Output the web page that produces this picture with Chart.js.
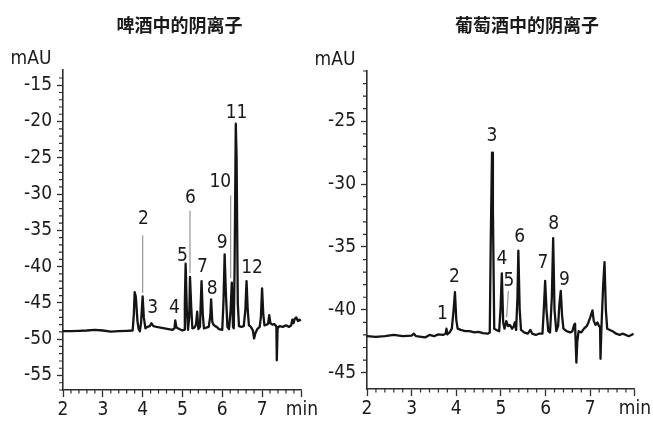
<!DOCTYPE html>
<html>
<head>
<meta charset="utf-8">
<title>啤酒与葡萄酒中的阴离子</title>
<script src="https://cdn.jsdelivr.net/npm/chart.js@4.4.0/dist/chart.umd.min.js"></script>
<style>
  html, body { margin: 0; padding: 0; background: #fff; }
  #wrap { position: relative; width: 653px; height: 421px; overflow: hidden; }
  #wrap canvas { position: absolute; top: 0; }
  #beerChart { left: 0; }
  #wineChart { left: 310px; }
</style>
</head>
<body>
<div id="wrap">
  <canvas id="beerChart" width="320" height="421"></canvas>
  <canvas id="wineChart" width="343" height="421"></canvas>
</div>
<script>
// Beer: retention time (min) and detector signal (mAU)
const beerTime = [
  2.00, 2.20, 2.40, 2.60, 2.80, 3.00, 3.20, 3.40, 3.60, 3.75,
  3.78, 3.80, 3.83, 3.87, 3.90, 3.93, 3.96, 4.00, 4.03, 4.07,
  4.12, 4.18, 4.22, 4.27, 4.35, 4.45, 4.55, 4.65, 4.75, 4.80,
  4.82, 4.85, 4.92, 5.00, 5.04, 5.06, 5.08, 5.11, 5.14, 5.17,
  5.19, 5.22, 5.25, 5.30, 5.34, 5.37, 5.40, 5.44, 5.46, 5.48,
  5.51, 5.54, 5.60, 5.66, 5.70, 5.72, 5.75, 5.78, 5.82, 5.86,
  5.92, 6.00, 6.03, 6.06, 6.09, 6.13, 6.17, 6.21, 6.24, 6.27,
  6.29, 6.31, 6.34, 6.36, 6.39, 6.42, 6.48, 6.54, 6.58, 6.61,
  6.64, 6.67, 6.72, 6.77, 6.80, 6.83, 6.88, 6.94, 6.97, 7.00,
  7.03, 7.06, 7.11, 7.15, 7.18, 7.21, 7.26, 7.30, 7.34, 7.36,
  7.37, 7.39, 7.44, 7.52, 7.60, 7.68, 7.73, 7.76, 7.79, 7.82,
  7.86, 7.90, 7.94, 7.97
];
const beerSignal = [
  -48.9, -48.9, -48.85, -48.8, -48.7, -48.8, -48.95, -48.9, -48.85, -48.8,
  -46.5, -43.5, -44.2, -47.5, -48.6, -48.9, -47.8, -44.1, -47.0, -48.5,
  -48.3, -48.2, -47.8, -48.2, -48.3, -48.4, -48.5, -48.6, -48.7, -48.5,
  -47.4, -48.4, -48.6, -48.8, -48.7, -45.0, -39.6, -46.0, -48.7, -47.0,
  -41.4, -45.5, -48.5, -48.4, -48.0, -46.2, -48.6, -48.3, -45.0, -42.0,
  -46.5, -48.5, -48.4, -48.3, -46.8, -44.5, -47.6, -48.0, -48.2, -48.3,
  -48.6, -48.7, -45.0, -38.3, -43.5, -48.3, -48.6, -46.0, -42.2, -48.3,
  -48.5, -40.0, -20.3, -25.0, -45.0, -48.2, -48.3, -48.2, -46.0, -42.0,
  -46.0, -48.1, -48.3, -48.8, -49.9, -49.2, -48.6, -48.3, -47.0, -43.0,
  -46.5, -48.1, -48.0, -47.9, -46.7, -47.8, -48.0, -47.9, -48.1, -48.3,
  -52.9, -48.5, -48.2, -48.3, -48.1, -48.3, -48.1, -47.3, -47.8, -47.2,
  -47.0, -47.5, -47.3, -47.5
];

// Wine: retention time (min) and detector signal (mAU)
const wineTime = [
  2.00, 2.20, 2.40, 2.60, 2.80, 3.00, 3.05, 3.10, 3.30, 3.40,
  3.50, 3.60, 3.70, 3.76, 3.78, 3.80, 3.85, 3.90, 3.94, 3.97,
  4.00, 4.03, 4.10, 4.20, 4.30, 4.40, 4.50, 4.60, 4.70, 4.75,
  4.77, 4.80, 4.82, 4.85, 4.90, 4.96, 4.99, 5.02, 5.05, 5.08,
  5.12, 5.16, 5.20, 5.25, 5.29, 5.31, 5.34, 5.37, 5.39, 5.42,
  5.45, 5.52, 5.60, 5.66, 5.70, 5.78, 5.85, 5.93, 5.96, 5.99,
  6.02, 6.06, 6.10, 6.14, 6.17, 6.20, 6.24, 6.28, 6.31, 6.34,
  6.37, 6.40, 6.47, 6.55, 6.60, 6.64, 6.66, 6.69, 6.71, 6.74,
  6.80, 6.86, 6.92, 6.96, 7.00, 7.05, 7.08, 7.12, 7.16, 7.20,
  7.22, 7.23, 7.25, 7.29, 7.32, 7.35, 7.38, 7.44, 7.50, 7.58,
  7.66, 7.72, 7.80, 7.86, 7.92, 7.97
];
const wineSignal = [
  -42.1, -42.15, -42.1, -42.0, -42.1, -42.05, -41.9, -42.1, -42.2, -42.0,
  -42.1, -41.95, -42.0, -41.9, -41.5, -41.95, -41.8, -41.5, -40.0, -38.6,
  -40.8, -41.5, -41.6, -41.7, -41.7, -41.8, -41.75, -41.85, -41.9, -41.8,
  -35.0, -27.5, -32.0, -41.5, -41.6, -41.7, -40.0, -37.1, -41.0, -41.5,
  -40.9, -41.3, -41.2, -41.5, -41.3, -41.0, -41.6, -39.0, -35.3, -40.0,
  -41.6, -41.8, -41.9, -41.6, -41.9, -42.0, -41.9, -41.9, -40.0, -37.7,
  -40.0, -41.7, -41.8, -39.0, -34.3, -40.0, -41.7, -41.3, -39.5, -38.5,
  -40.5, -41.5, -41.7, -41.8, -41.7, -41.2, -41.1, -44.2, -42.5, -41.7,
  -41.8, -41.5, -41.3, -41.0, -40.6, -40.05, -40.9, -41.2, -41.0, -41.3,
  -41.4, -43.9, -41.5, -38.0, -36.2, -40.0, -41.5, -41.6, -41.7, -41.9,
  -42.0, -41.9, -42.0, -42.1, -42.0, -41.9
];

// Peak numbers and where each one sits (time, mAU)
const beerPeaks = ['2', '3', '4', '5', '6', '7', '8', '9', '10', '11', '12'];
const beerPeakTime = [4.02, 4.25, 4.80, 5.00, 5.20, 5.50, 5.75, 6.00, 5.95, 6.36, 6.75];
const beerPeakValue = [-33.4, -45.7, -45.7, -38.6, -30.5, -40.0, -43.1, -36.8, -28.4, -18.9, -40.2];

const winePeaks = ['1', '2', '3', '4', '5', '6', '7', '8', '9'];
const winePeakTime = [3.69, 3.96, 4.80, 5.02, 5.18, 5.42, 5.94, 6.18, 6.42];
const winePeakValue = [-40.3, -37.4, -26.2, -36.0, -37.7, -34.2, -36.3, -33.2, -37.6];

// Gray leader lines: [time top, mAU top, time bottom, mAU bottom]
const beerLeaders = [[4.00, -35.7, 4.00, -43.6], [5.19, -32.3, 5.19, -40.9], [6.21, -30.2, 6.21, -41.6]];
const wineLeaders = [[5.166, -38.5, 5.128, -40.6]];

// Axis ranges
const beerRange = [-57.0, -12.9];
const wineRange = [-46.3, -21.0];
const timeRange = [2, 8];

const NARROW = '"Liberation Sans Narrow", "DejaVu Sans Condensed", "Roboto Condensed", "Liberation Sans", sans-serif';
const INK = '#1a1a1a';
const AXIS = '#2e2e2e';
const FONT_SIZE = 19;

function isWhole(v) {
    return Math.abs(v - Math.round(v)) < 1e-6;
}

// Minor ticks, leader lines, peak numbers, title and unit
const chromDecor = {
    id: 'chromDecor',
    beforeDatasetsDraw(chart, args, opts) {
        const ctx = chart.ctx;
        const xs = chart.scales.x, ys = chart.scales.y;
        ctx.save();
        ctx.strokeStyle = '#9d9d9d';
        ctx.lineWidth = 1.3;
        opts.leaders.forEach(l => {
            ctx.beginPath();
            ctx.moveTo(xs.getPixelForValue(l[0]), ys.getPixelForValue(l[1]));
            ctx.lineTo(xs.getPixelForValue(l[2]), ys.getPixelForValue(l[3]));
            ctx.stroke();
        });
        ctx.restore();
    },
    afterDraw(chart, args, opts) {
        const ctx = chart.ctx;
        const xs = chart.scales.x, ys = chart.scales.y;
        const area = chart.chartArea;
        ctx.save();

        ctx.strokeStyle = AXIS;
        ctx.lineWidth = 1.2;
        ctx.beginPath();
        xs.ticks.forEach(t => {
            if (!isWhole(t.value * 5) || isWhole(t.value)) return;
            const px = xs.getPixelForValue(t.value);
            ctx.moveTo(px, area.bottom);
            ctx.lineTo(px, area.bottom + 3.5);
        });
        ys.ticks.forEach(t => {
            if (!isWhole(t.value) || t.value % 5 === 0) return;
            const py = ys.getPixelForValue(t.value);
            ctx.moveTo(area.left, py);
            ctx.lineTo(area.left - 4, py);
        });
        ctx.stroke();

        ctx.fillStyle = INK;
        ctx.textAlign = 'center';
        ctx.textBaseline = 'middle';
        ctx.font = FONT_SIZE + 'px ' + NARROW;
        opts.labels.forEach((txt, i) => {
            ctx.fillText(txt, xs.getPixelForValue(opts.labelTime[i]), ys.getPixelForValue(opts.labelValue[i]));
        });

        ctx.fillText('mAU', area.left - 32, area.top - 11);

        ctx.font = 'bold 18px "Noto Sans CJK SC", sans-serif';
        ctx.fillText(opts.title, (area.left + area.right) / 2 + opts.titleShift, 25);
        ctx.restore();
    }
};

function makeChart(canvasId, time, signal, yRange, decor, box) {
    const points = time.map((t, i) => ({ x: t, y: signal[i] }));
    return new Chart(document.getElementById(canvasId), {
        type: 'line',
        data: {
            datasets: [{
                data: points,
                borderColor: '#141414',
                borderWidth: 2.3,
                borderJoinStyle: 'round',
                pointRadius: 0,
                tension: 0,
                fill: false
            }]
        },
        options: {
            responsive: false,
            animation: false,
            layout: { padding: { left: 0, right: box.right, top: box.top, bottom: 0 } },
            plugins: {
                legend: { display: false },
                tooltip: { enabled: false },
                chromDecor: decor
            },
            scales: {
                x: {
                    type: 'linear',
                    min: timeRange[0],
                    max: timeRange[1],
                    afterFit: s => { s.height = box.xHeight; },
                    border: { display: true, color: AXIS, width: 1.6 },
                    grid: {
                        drawOnChartArea: false,
                        tickLength: 7,
                        tickWidth: 1.3,
                        tickColor: c => isWhole(c.tick.value) ? AXIS : 'rgba(0,0,0,0)'
                    },
                    ticks: {
                        stepSize: 0.2,
                        maxTicksLimit: 100,
                        autoSkip: false,
                        maxRotation: 0,
                        padding: 2,
                        color: INK,
                        font: { family: NARROW, size: FONT_SIZE },
                        callback: v => isWhole(v) ? (Math.round(v) === timeRange[1] ? 'min' : String(Math.round(v))) : ''
                    }
                },
                y: {
                    type: 'linear',
                    min: yRange[0],
                    max: yRange[1],
                    afterFit: s => { s.width = box.yWidth; },
                    border: { display: true, color: AXIS, width: 1.6 },
                    grid: {
                        drawOnChartArea: false,
                        tickLength: 6,
                        tickWidth: 1.3,
                        tickColor: c => (isWhole(c.tick.value) && c.tick.value % 5 === 0) ? AXIS : 'rgba(0,0,0,0)'
                    },
                    ticks: {
                        stepSize: 1,
                        maxTicksLimit: 100,
                        autoSkip: false,
                        padding: 5,
                        color: INK,
                        font: { family: NARROW, size: FONT_SIZE },
                        callback: v => (isWhole(v) && v % 5 === 0) ? String(Math.round(v)) : ''
                    }
                }
            }
        },
        plugins: [chromDecor]
    });
}

makeChart('beerChart', beerTime, beerSignal, beerRange, {
    title: '啤酒中的阴离子',
    titleShift: -3,
    labels: beerPeaks,
    labelTime: beerPeakTime,
    labelValue: beerPeakValue,
    leaders: beerLeaders
}, { yWidth: 63, xHeight: 31, top: 70, right: 17 });

makeChart('wineChart', wineTime, wineSignal, wineRange, {
    title: '葡萄酒中的阴离子',
    titleShift: 26,
    labels: winePeaks,
    labelTime: winePeakTime,
    labelValue: winePeakValue,
    leaders: wineLeaders
}, { yWidth: 57, xHeight: 32, top: 71, right: 15 });
</script>
</body>
</html>
